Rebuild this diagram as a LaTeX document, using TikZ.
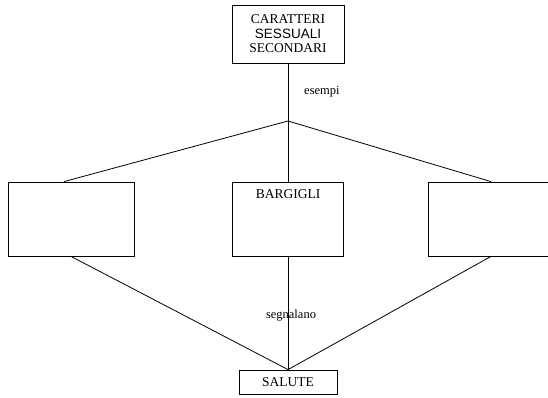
\documentclass[tikz,border=0pt]{standalone}
\usepackage{fontspec}
\setmainfont{Liberation Serif}
\newfontfamily\arialfont{Liberation Sans}
\usetikzlibrary{positioning, calc}
\tikzset{
  box/.style={draw=black, rectangle, align=center, inner sep=0pt, line width=0.8pt, font=\fontsize{13.5}{14.5}\selectfont},
  emptybox/.style={box, minimum width=126, minimum height=74},
  link/.style={draw=black, line width=0.8pt},
  tag/.style={font=\fontsize{12.5}{14}\selectfont, inner sep=0pt}
}
\begin{document}
\begin{tikzpicture}[x=1pt, y=-1pt]
\useasboundingbox (0,0) rectangle (548,398);
\clip (0,0) rectangle (548,398);

\node[box, minimum width=112, minimum height=58] (css) at (288,34) {CARATTERI\\{\arialfont SESSUALI}\\SECONDARI};
\coordinate (fork) at (288,121);

\node[emptybox] (left) at (71,219) {};
\node[box, minimum width=111, minimum height=74,
      label={[box, draw=none, anchor=north, yshift=-8pt]north:BARGIGLI}] (barg) at (288,219) {};
\node[emptybox] (right) at (491,219) {};

\node[box, minimum width=98, minimum height=24] (salute) at (288,382) {SALUTE};

% esempi
\draw[link] (css) -- (fork);
\draw[link] (fork) -- ([xshift=-7pt]left.north);
\draw[link] (fork) -- (barg.north);
\draw[link] (fork) -- (right.north);
\node[tag, anchor=base west] (es) at (304,95) {esempi};

% segnalano
\draw[link] (left.south) -- (salute.north);
\draw[link] (barg.south) -- (salute.north);
\draw[link] (right.south) -- (salute.north);
\node[tag, anchor=base] (se) at (291,318) {segnalano};

\end{tikzpicture}
\end{document}
